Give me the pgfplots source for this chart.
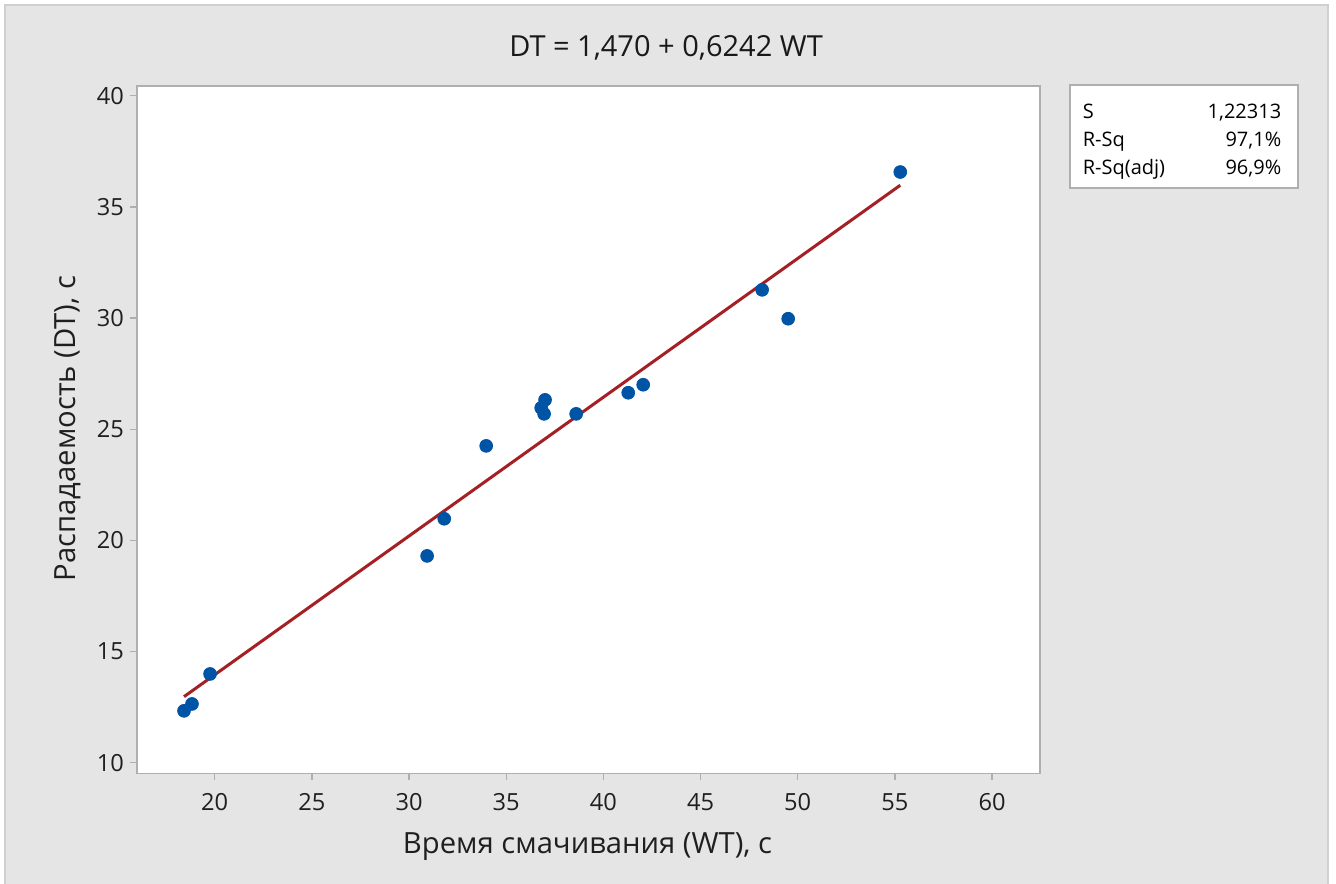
\documentclass[border=0pt]{standalone}
\usepackage{fontspec}
\setmainfont{Open Sans}
\usepackage{pgfplots}
\pgfplotsset{compat=1.18}
\definecolor{bgpanel}{RGB}{229,229,229}
\definecolor{panelline}{RGB}{208,208,208}
\definecolor{axline}{RGB}{175,175,175}
\definecolor{ptblue}{RGB}{0,84,166}
\definecolor{fitred}{RGB}{165,32,36}

\begin{document}
\begin{tikzpicture}[x=1pt,y=1pt]
\useasboundingbox (0,0) rectangle (668,441.5);
\fill[white] (0,0) rectangle (668,441.5);
\filldraw[fill=bgpanel,draw=panelline,line width=1pt] (2.5,-2) rectangle (664,439);

\begin{axis}[
  at={(70.5,49.35)}, anchor=south west,
  scale only axis,
  width=451.5pt, height=343.65pt,
  xmin=16, xmax=62.47,
  ymin=9.52, ymax=40.44,
  xtick={20,25,...,60},
  ytick={10,15,...,40},
  xtick pos=bottom, ytick pos=left,
  tick align=outside,
  major tick length=3.5pt,
  tick style={axline, line width=0.7pt},
  axis line style={axline, line width=0.8pt},
  axis background/.style={fill=white},
  /pgf/number format/assume math mode=true,
  ticklabel style={font=\fontsize{11.8}{13}\selectfont, text=black!88},
  xticklabel style={yshift=-3pt},
  yticklabel style={xshift=0.5pt},
  clip=false,
]
\addplot[fitred, line width=1.5pt] coordinates {(18.42,12.968) (55.28,35.976)};
\addplot[only marks, mark=*, mark size=3.2pt, color=ptblue, mark options={fill=ptblue, draw=ptblue}]
coordinates {
  (18.42,12.33) (18.83,12.64) (19.76,13.99) (30.93,19.30) (31.81,20.97)
  (33.97,24.25) (36.80,25.96) (37.00,26.32) (36.95,25.69) (38.60,25.69)
  (41.28,26.64) (42.05,27.00) (48.17,31.27) (49.51,29.97) (55.28,36.57)
};
\end{axis}

\node[font=\fontsize{14.5}{17}\selectfont, text=black!90] at (333,417.4) {DT = 1,470 + 0,6242 WT};
\node[font=\fontsize{14.6}{17}\selectfont, text=black!88] at (293.75,18.3) {Время смачивания (WT), с};
\node[font=\fontsize{14.6}{17}\selectfont, text=black!88, rotate=90] at (34,227.2) {Распадаемость (DT), с};

\filldraw[fill=white, draw=axline, line width=0.8pt] (535,347.5) rectangle (649,399);
\begin{scope}[font=\fontsize{10}{12}\selectfont]
\node[anchor=base west, inner sep=0] at (541.2,382.35) {S};
\node[anchor=base east, inner sep=0] at (640.8,382.35) {1,22313};
\node[anchor=base west, inner sep=0] at (541.2,368.15) {R-Sq};
\node[anchor=base east, inner sep=0] at (640.8,368.15) {97,1\%};
\node[anchor=base west, inner sep=0] at (541.2,354.0) {R-Sq(adj)};
\node[anchor=base east, inner sep=0] at (640.8,354.0) {96,9\%};
\end{scope}
\end{tikzpicture}
\end{document}
